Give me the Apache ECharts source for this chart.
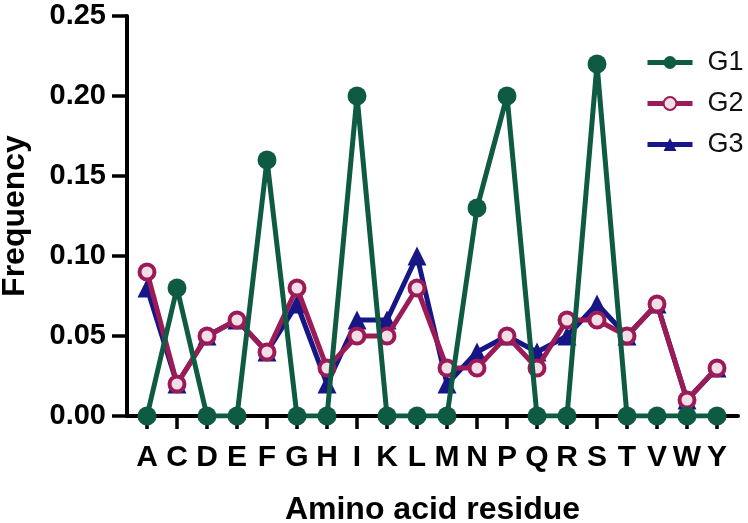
<!DOCTYPE html>
<html>
<head>
<meta charset="utf-8">
<script src="https://cdn.jsdelivr.net/npm/echarts@6/dist/echarts.min.js"></script>
<style>html,body{margin:0;padding:0;background:#fff}#c{width:748px;height:523px}</style>
</head>
<body>
<div id="c"></div>
<script>
var categories = ['A','C','D','E','F','G','H','I','K','L','M','N','P','Q','R','S','T','V','W','Y'];
var g1 = [0,0.08,0,0,0.16,0,0,0.20,0,0,0,0.13,0.20,0,0,0.22,0,0,0,0];
var g2 = [0.09,0.02,0.05,0.06,0.04,0.08,0.03,0.05,0.05,0.08,0.03,0.03,0.05,0.03,0.06,0.06,0.05,0.07,0.01,0.03];
var g3 = [0.08,0.02,0.05,0.06,0.04,0.07,0.02,0.06,0.06,0.10,0.02,0.04,0.05,0.04,0.05,0.07,0.05,0.07,0.01,0.03];
var yTicks = [0,0.05,0.10,0.15,0.20,0.25];

function pairs(arr){ return arr.map(function(v,i){ return [i,v]; }); }
var idx = categories.map(function(c,i){ return i; });
var FONT = '"Liberation Sans", Arial, sans-serif';
var C1 = '#0e5a43', C2 = '#9b1b57', C3 = '#161687';

var chart = echarts.init(document.getElementById('c'), null, {renderer:'canvas'});
chart.setOption({
  animation: false,
  backgroundColor: '#fff',
  grid: {left: 127, right: 10, top: 16, bottom: 107, containLabel: false, outerBoundsMode: 'none'},
  legend: {
    orient: 'vertical', left: 640, top: 44,
    itemWidth: 45, itemHeight: 16, itemGap: 14,
    lineStyle: {width: 5},
    textStyle: {fontFamily: FONT, fontSize: 27, color: '#111', padding: [0,0,0,10]},
    data: ['G1','G2','G3']
  },
  xAxis: {
    type: 'value', min: -0.667, max: 19.7,
    name: 'Amino acid residue', nameLocation: 'middle', nameGap: 78,
    nameTextStyle: {fontFamily: FONT, fontSize: 32, fontWeight: 'bold', color: '#000'},
    splitLine: {show: false},
    axisLine: {show: true, onZero: false, lineStyle: {color: '#000', width: 4}},
    axisTick: {show: true, length: 13, lineStyle: {color: '#000', width: 3.5}, customValues: idx},
    axisLabel: {
      customValues: idx, margin: 27,
      fontFamily: FONT, fontSize: 30, fontWeight: 'bold', color: '#000',
      formatter: function(v){ return categories[Math.round(v)]; }
    }
  },
  yAxis: {
    type: 'value', min: 0, max: 0.25, interval: 0.05,
    name: 'Frequency', nameLocation: 'middle', nameGap: 96,
    nameTextStyle: {fontFamily: FONT, fontSize: 32, fontWeight: 'bold', color: '#000'},
    splitLine: {show: false},
    axisLine: {show: true, onZero: false, lineStyle: {color: '#000', width: 4}},
    axisTick: {show: true, length: 15, lineStyle: {color: '#000', width: 3.5}},
    axisLabel: {
      margin: 21, fontFamily: FONT, fontSize: 29, fontWeight: 'bold', color: '#000',
      formatter: function(v){ return v.toFixed(2); }
    }
  },
  series: [
    {name: 'G1', type: 'line', data: pairs(g1), z: 5,
     symbol: 'circle', symbolSize: 19, color: C1,
     lineStyle: {width: 5, color: C1}, itemStyle: {color: C1}},
    {name: 'G2', type: 'line', data: pairs(g2), z: 4,
     symbol: 'circle', symbolSize: 15, color: C2,
     lineStyle: {width: 5, color: C2}, itemStyle: {color: '#f3dde6', borderColor: C2, borderWidth: 4}},
    {name: 'G3', type: 'line', data: pairs(g3), z: 3,
     symbol: 'triangle', symbolSize: 19, color: C3,
     lineStyle: {width: 5, color: C3}, itemStyle: {color: C3}}
  ]
});
</script>
</body>
</html>
